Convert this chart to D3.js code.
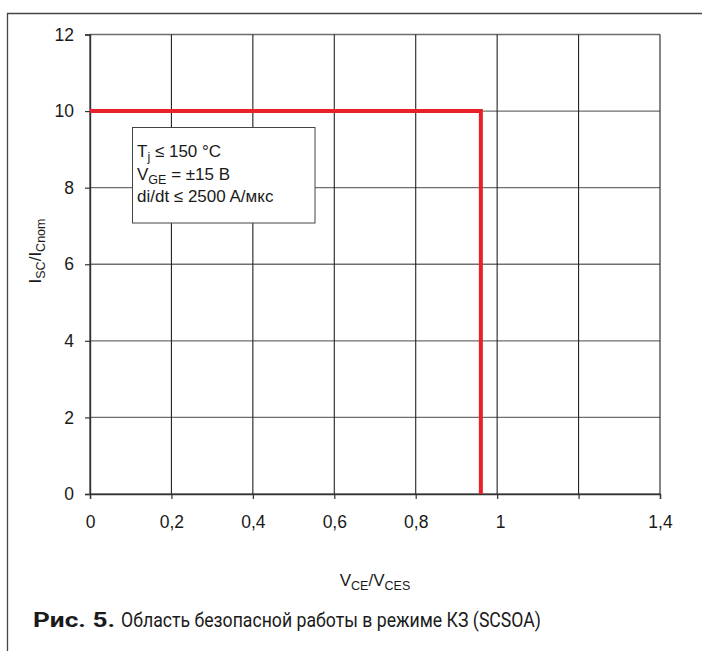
<!DOCTYPE html>
<html>
<head>
<meta charset="utf-8">
<script src="https://cdn.jsdelivr.net/npm/d3@7"></script>
<style>
	body { margin: 0; background: #fff; }
	svg text { font-family: "Liberation Sans", Arial, sans-serif; fill: #1a1a1a; }
</style>
</head>
<body>
<div id="chart"></div>
<script>
var xTicks = [0, 0.2, 0.4, 0.6, 0.8, 1, 1.2, 1.4];
var xTickLabels = ['0', '0,2', '0,4', '0,6', '0,8', '1', '', '1,4'];
var yTicks = [0, 2, 4, 6, 8, 10, 12];

// SCSOA boundary: 10 x I_Cnom up to 0.96 x V_CES
var boundaryX = [0, 0.96, 0.96];
var boundaryY = [10, 10, 0];

var width = 702;
var height = 651;

var margin = { left: 90, right: 42, top: 34.5, bottom: 157 };

var svg = d3.select('#chart')
	.append('svg')
	.attr('width', width)
	.attr('height', height);

// outer frame (top and left only)
svg.append('path')
	.attr('d', 'M7.5,651 V13.5 H702')
	.attr('fill', 'none')
	.attr('stroke', '#444')
	.attr('stroke-width', 1.3);

var x = d3.scaleLinear()
	.domain([0, 1.4])
	.range([margin.left, width - margin.right]);

var y = d3.scaleLinear()
	.domain([0, 12])
	.range([height - margin.bottom, margin.top]);

// grid
svg.append('g')
	.selectAll('line')
	.data(yTicks)
	.enter()
	.append('line')
	.attr('x1', x(0))
	.attr('x2', x(1.4))
	.attr('y1', function(d) { return y(d); })
	.attr('y2', function(d) { return y(d); })
	.attr('stroke', '#6e6e6e')
	.attr('stroke-width', 1.4);

svg.append('g')
	.selectAll('line')
	.data(xTicks)
	.enter()
	.append('line')
	.attr('x1', function(d) { return x(d); })
	.attr('x2', function(d) { return x(d); })
	.attr('y1', y(0))
	.attr('y2', y(12))
	.attr('stroke', '#222')
	.attr('stroke-width', 1.1);

// axes
var xAxis = svg.append('g')
	.attr('transform', 'translate(0,' + y(0) + ')')
	.call(d3.axisBottom(x)
		.tickValues(xTicks)
		.tickFormat(function(d, i) { return xTickLabels[i]; })
		.tickSize(5)
		.tickPadding(17));

var yAxis = svg.append('g')
	.attr('transform', 'translate(' + x(0) + ',0)')
	.call(d3.axisLeft(y)
		.tickValues(yTicks)
		.tickSize(5)
		.tickPadding(11));

[xAxis, yAxis].forEach(function(a) {
	a.select('.domain').attr('stroke', '#333').attr('stroke-width', 1.4);
	a.selectAll('.tick line').attr('stroke', '#333').attr('stroke-width', 1.2);
	a.selectAll('.tick text')
		.style('font-size', '17.5px')
		.style('font-family', '"Liberation Sans", Arial, sans-serif')
		.attr('fill', '#1a1a1a');
});
xAxis.selectAll('.tick text').attr('dx', function(d) { return d === 1 ? 3 : 0; });

// boundary line
var line = d3.line()
	.x(function(d) { return x(d[0]); })
	.y(function(d) { return y(d[1]); });

svg.append('path')
	.datum(d3.zip(boundaryX, boundaryY))
	.attr('d', line)
	.attr('fill', 'none')
	.attr('stroke', '#e8202a')
	.attr('stroke-width', 4);

// conditions box
var box = svg.append('g');
box.append('rect')
	.attr('x', 132.5)
	.attr('y', 127.5)
	.attr('width', 182.5)
	.attr('height', 95.5)
	.attr('fill', '#fff')
	.attr('stroke', '#444')
	.attr('stroke-width', 1);

var t1 = box.append('text').attr('x', 137).attr('y', 157).style('font-size', '17px');
t1.append('tspan').text('T');
t1.append('tspan').attr('dy', 4).style('font-size', '12.5px').text('j');
t1.append('tspan').attr('dy', -4).text(' ≤ 150 °C');

var t2 = box.append('text').attr('x', 137).attr('y', 180).style('font-size', '17px');
t2.append('tspan').text('V');
t2.append('tspan').attr('dy', 4).style('font-size', '12.5px').text('GE');
t2.append('tspan').attr('dy', -4).text(' = ±15 B');

box.append('text').attr('x', 137).attr('y', 202).style('font-size', '17px')
	.text('di/dt ≤ 2500 A/мкс');

// axis titles
var yt = svg.append('text')
	.attr('transform', 'translate(41,251) rotate(-90)')
	.attr('text-anchor', 'middle')
	.style('font-size', '17px');
yt.append('tspan').text('I');
yt.append('tspan').attr('dy', 4).style('font-size', '12.5px').text('SC');
yt.append('tspan').attr('dy', -4).text('/I');
yt.append('tspan').attr('dy', 4).style('font-size', '12.5px').text('Cnom');

var xt = svg.append('text')
	.attr('x', x(0.7))
	.attr('y', 586)
	.attr('text-anchor', 'middle')
	.style('font-size', '17px');
xt.append('tspan').text('V');
xt.append('tspan').attr('dy', 4).style('font-size', '12.5px').text('CE');
xt.append('tspan').attr('dy', -4).text('/V');
xt.append('tspan').attr('dy', 4).style('font-size', '12.5px').text('CES');

// caption
svg.append('text')
	.attr('x', 33)
	.attr('y', 627)
	.attr('textLength', 82)
	.attr('lengthAdjust', 'spacingAndGlyphs')
	.style('font-family', 'Roboto, sans-serif')
	.style('font-weight', 'bold')
	.style('font-size', '20px')
	.text('Рис. 5.');

svg.append('text')
	.attr('x', 121)
	.attr('y', 627)
	.attr('textLength', 420)
	.attr('lengthAdjust', 'spacingAndGlyphs')
	.style('font-family', 'Roboto, sans-serif')
	.style('font-size', '20px')
	.text('Область безопасной работы в режиме КЗ (SCSOA)');
</script>
</body>
</html>
